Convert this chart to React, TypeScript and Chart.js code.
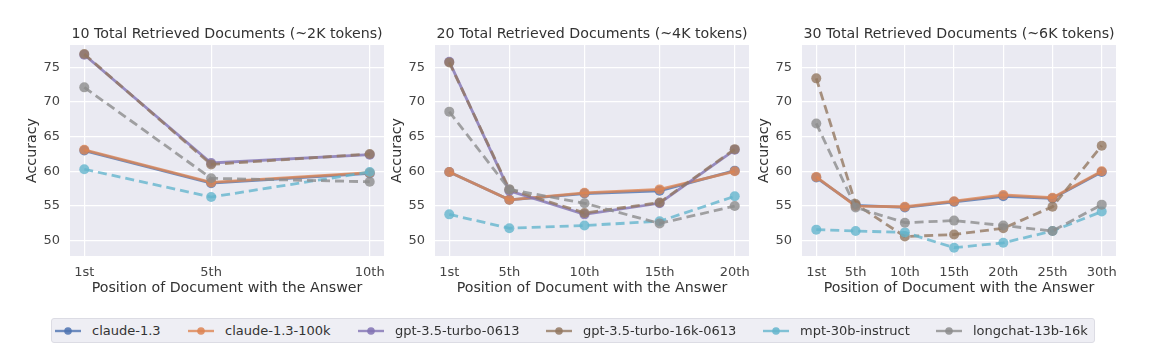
import React, { useEffect, useRef } from 'react';
import { Chart, registerables } from 'chart.js';

Chart.register(...registerables);

const FONT = "'DejaVu Sans', 'Liberation Sans', sans-serif";

// ---- categories / ticks ----
const seriesNames = [
  'claude-1.3',
  'claude-1.3-100k',
  'gpt-3.5-turbo-0613',
  'gpt-3.5-turbo-16k-0613',
  'mpt-30b-instruct',
  'longchat-13b-16k',
];
const seriesColors = ['76,114,176', '221,132,82', '129,114,179', '147,120,96', '100,181,205', '140,140,140'];
const seriesDashed = [false, false, false, true, true, true];

const panelTitles = [
  '10 Total Retrieved Documents (~2K tokens)',
  '20 Total Retrieved Documents (~4K tokens)',
  '30 Total Retrieved Documents (~6K tokens)',
];

const positions10 = [1, 5, 10];
const labels10 = ['1st', '5th', '10th'];
const positions20 = [1, 5, 10, 15, 20];
const labels20 = ['1st', '5th', '10th', '15th', '20th'];
const positions30 = [1, 5, 10, 15, 20, 25, 30];
const labels30 = ['1st', '5th', '10th', '15th', '20th', '25th', '30th'];

const yTicks = [50, 55, 60, 65, 70, 75];

// ---- series values: 10 documents ----
const claude13_10 = [63.0, 58.3, 59.7];
const claude100k_10 = [63.1, 58.4, 59.8];
const gpt35_10 = [76.8, 61.2, 62.4];
const gpt16k_10 = [76.9, 61.0, 62.5];
const mpt_10 = [60.3, 56.3, 59.9];
const longchat_10 = [72.1, 59.0, 58.5];

// ---- series values: 20 documents ----
const claude13_20 = [59.9, 55.9, 56.8, 57.2, 60.1];
const claude100k_20 = [59.9, 55.9, 56.9, 57.4, 60.0];
const gpt35_20 = [75.8, 57.2, 53.8, 55.4, 63.1];
const gpt16k_20 = [75.7, 57.4, 54.0, 55.5, 63.2];
const mpt_20 = [53.8, 51.8, 52.2, 52.8, 56.4];
const longchat_20 = [68.6, 57.4, 55.4, 52.5, 55.0];

// ---- series values: 30 documents ----
const claude13_30 = [59.1, 55.1, 54.8, 55.6, 56.4, 56.1, 59.9];
const claude100k_30 = [59.2, 55.0, 54.9, 55.7, 56.6, 56.2, 60.0];
const gpt35_30: number[] = [];
const gpt16k_30 = [73.4, 55.3, 50.6, 50.9, 51.8, 54.9, 63.7];
const mpt_30 = [51.6, 51.4, 51.2, 49.0, 49.7, 51.4, 54.2];
const longchat_30 = [66.9, 54.8, 52.6, 52.9, 52.2, 51.4, 55.2];

const panels = [
  {
    title: panelTitles[0],
    positions: positions10,
    labels: labels10,
    values: [claude13_10, claude100k_10, gpt35_10, gpt16k_10, mpt_10, longchat_10],
    areaLeft: 70,
  },
  {
    title: panelTitles[1],
    positions: positions20,
    labels: labels20,
    values: [claude13_20, claude100k_20, gpt35_20, gpt16k_20, mpt_20, longchat_20],
    areaLeft: 435,
  },
  {
    title: panelTitles[2],
    positions: positions30,
    labels: labels30,
    values: [claude13_30, claude100k_30, gpt35_30, gpt16k_30, mpt_30, longchat_30],
    areaLeft: 802,
  },
];

const Y_AXIS_W = 70;
const AREA_W = 314;
const RIGHT_PAD = 6;
const CANVAS_W = Y_AXIS_W + AREA_W + RIGHT_PAD;
const CANVAS_H = 300;

const bgPlugin = {
  id: 'plotBg',
  beforeDraw(chart: any) {
    const { ctx, chartArea: a } = chart;
    ctx.save();
    ctx.fillStyle = '#EAEAF2';
    ctx.fillRect(a.left, a.top, a.right - a.left, a.bottom - a.top);
    ctx.restore();
  },
};

function Panel({ panel }: { panel: (typeof panels)[number] }) {
  const ref = useRef<HTMLCanvasElement | null>(null);
  useEffect(() => {
    if (!ref.current) return;
    const pos = panel.positions;
    const span = pos[pos.length - 1] - pos[0];
    const datasets = seriesNames.map((name, i) => ({
      label: name,
      data: panel.values[i].map((v, j) => ({ x: pos[j], y: v })),
      borderColor: `rgba(${seriesColors[i]},0.8)`,
      backgroundColor: `rgba(${seriesColors[i]},0.8)`,
      pointBackgroundColor: `rgba(${seriesColors[i]},0.8)`,
      pointBorderWidth: 0,
      pointRadius: 5,
      borderWidth: 2.8,
      borderDash: seriesDashed[i] ? [9, 5] : [],
      tension: 0,
      order: 5 - i,
    }));
    const chart = new Chart(ref.current, {
      type: 'line',
      data: { datasets },
      plugins: [bgPlugin],
      options: {
        responsive: false,
        animation: false,
        events: [],
        layout: { padding: { left: 0, right: RIGHT_PAD, top: 0, bottom: 0 } },
        plugins: {
          legend: { display: false },
          tooltip: { enabled: false },
          title: {
            display: true,
            fullSize: false,
            text: panel.title,
            color: '#333333',
            font: { family: FONT, size: 14.2, weight: 'normal' },
            padding: { top: 25.5, bottom: 2.5 },
          },
        },
        scales: {
          x: {
            type: 'linear',
            min: pos[0] - span * 0.05,
            max: pos[pos.length - 1] + span * 0.05,
            afterBuildTicks: (s: any) => {
              s.ticks = pos.map((v) => ({ value: v }));
            },
            afterFit: (s: any) => {
              s.height = CANVAS_H - 256;
              s.paddingLeft = 0;
              s.paddingRight = 0;
            },
            ticks: {
              autoSkip: false,
              maxRotation: 0,
              padding: 9,
              color: '#444444',
              font: { family: FONT, size: 13 },
              callback: (v: any) => {
                const k = pos.indexOf(Number(v));
                return k >= 0 ? panel.labels[k] : '';
              },
            },
            grid: { color: '#ffffff', lineWidth: 1.2, drawTicks: false },
            border: { display: false },
            title: {
              display: true,
              text: 'Position of Document with the Answer',
              color: '#333333',
              font: { family: FONT, size: 14.2 },
              padding: { top: 0, bottom: 3.3 },
            },
          },
          y: {
            type: 'linear',
            min: 47.8,
            max: 78.2,
            afterBuildTicks: (s: any) => {
              s.ticks = yTicks.map((v) => ({ value: v }));
            },
            afterFit: (s: any) => {
              s.width = Y_AXIS_W;
              s.paddingTop = 0;
              s.paddingBottom = 0;
            },
            ticks: {
              padding: 10,
              color: '#444444',
              font: { family: FONT, size: 13 },
              callback: (v: any) => String(v),
            },
            grid: { color: '#ffffff', lineWidth: 1.2, drawTicks: false },
            border: { display: false },
            title: {
              display: true,
              text: 'Accuracy',
              color: '#333333',
              font: { family: FONT, size: 14.2 },
              padding: { top: 23.5, bottom: 0 },
            },
          },
        },
      } as any,
    });
    return () => chart.destroy();
  }, [panel]);

  return (
    <div
      style={{
        position: 'absolute',
        left: panel.areaLeft - Y_AXIS_W,
        top: 0,
        width: CANVAS_W,
        height: CANVAS_H,
      }}
    >
      <canvas ref={ref} width={CANVAS_W} height={CANVAS_H} style={{ width: CANVAS_W, height: CANVAS_H, display: 'block' }} />
    </div>
  );
}

const LEGEND_LEFT = 51;
const legendHandleLefts = [55, 188, 358, 546, 763, 936];

function Legend() {
  return (
    <div
      style={{
        position: 'absolute',
        left: LEGEND_LEFT,
        top: 318,
        width: 1095 - LEGEND_LEFT,
        height: 25,
        boxSizing: 'border-box',
        background: '#EEEEF4',
        border: '1px solid #DCDCE4',
        borderRadius: 3,
        fontFamily: FONT,
        fontSize: 13,
        color: '#333333',
      }}
    >
      {seriesNames.map((name, i) => (
        <div
          key={name}
          style={{
            position: 'absolute',
            left: legendHandleLefts[i] - LEGEND_LEFT - 1,
            top: 0,
            height: 23,
            display: 'flex',
            alignItems: 'center',
            whiteSpace: 'nowrap',
          }}
        >
          <svg width={26} height={12} style={{ marginRight: 11 }}>
            <line x1={0} y1={6} x2={26} y2={6} stroke={`rgba(${seriesColors[i]},0.8)`} strokeWidth={2.4} />
            <circle cx={13} cy={6} r={3.8} fill={`rgba(${seriesColors[i]},0.85)`} />
          </svg>
          <span>{name}</span>
        </div>
      ))}
    </div>
  );
}

export default function App() {
  return (
    <div style={{ position: 'absolute', left: 0, top: 0, width: 1166, height: 358, background: '#ffffff', overflow: 'hidden' }}>
      {panels.map((p) => (
        <Panel key={p.title} panel={p} />
      ))}
      <Legend />
    </div>
  );
}
